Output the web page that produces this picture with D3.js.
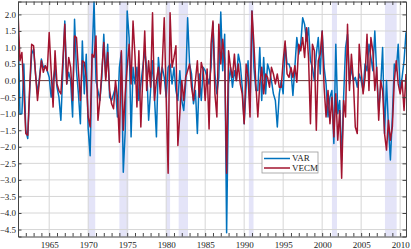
<!DOCTYPE html>
<html><head><meta charset="utf-8">
<script src="https://cdn.jsdelivr.net/npm/d3@7"></script>
<style>html,body{margin:0;padding:0;background:#fff;}svg{display:block;}</style>
</head><body>
<script>
const startYear = 1961; // quarterly series, 1961Q1 onward
const seriesNames = ["VAR", "VECM"];
const varValues = [1.8,-1.0,-1.0,0.5,-1.5,-1.75,-0.3,0.8,0.95,0.2,-0.4,0.1,0.65,0.4,0.45,0.3,0.1,-0.5,0.0,0.4,
-0.2,-0.5,-1.2,0.3,1.8,-0.1,0.25,0.0,-1.1,1.85,0.3,-0.4,-1.3,1.2,-0.4,0.8,-1.46,-2.27,0.7,2.4,
0.0,-0.3,-0.6,0.1,1.4,0.1,1.1,-0.5,-0.6,-0.4,-0.2,-1.1,0.4,0.85,-2.77,-1.5,2.1,1.3,-1.7,0.4,
-0.1,0.4,-0.6,-0.1,0.4,0.9,0.4,-1.2,-0.3,0.6,-0.5,-1.7,0.7,0.0,0.4,0.1,-0.5,0.4,0.5,-0.1,
0.4,-0.3,-0.6,0.3,-0.6,-0.9,-0.1,1.9,0.5,0.2,-0.7,-0.3,-1.6,0.2,-0.6,0.4,0.3,0.1,-0.1,0.4,
1.75,0.2,-0.4,0.1,2.07,0.3,1.4,-4.6,-0.1,0.4,-0.2,0.3,0.0,0.8,0.5,-0.2,-1.3,-0.2,0.6,-0.8,
2.1,0.4,-0.3,-0.3,1.0,-0.6,0.7,-0.4,0.5,0.3,0.0,-0.4,-0.6,-1.4,-0.4,0.0,-0.4,1.1,0.5,0.5,
0.3,-0.45,0.4,1.3,0.8,1.1,1.9,1.7,1.2,1.6,0.6,0.4,0.0,0.8,1.3,0.2,1.5,0.4,-0.1,-1.1,
-0.5,-0.3,-1.9,1.1,-1.0,-0.6,-2.4,-0.5,1.0,1.4,-0.1,0.4,0.0,0.1,-0.2,0.2,0.0,-0.3,0.5,0.3,
1.1,0.7,0.3,1.5,0.2,-0.9,-0.2,1.0,-1.6,0.0,-1.4,-2.4,-1.1,0.5,0.3,1.1,-0.3,0.1,0.6,1.46];
const vecmValues = [2.1,0.6,0.85,-0.3,-1.6,-1.65,-0.2,1.1,1.05,0.2,-0.6,0.0,0.6,0.25,0.45,0.3,1.45,0.3,-0.8,0.9,
-0.1,-0.3,-0.4,0.6,1.7,-0.1,0.7,0.4,-0.6,1.35,1.3,0.3,-0.6,0.6,0.55,0.1,-1.1,-1.4,0.8,0.7,
1.35,-1.2,-0.6,0.3,1.15,0.0,0.85,-0.3,-0.7,-0.85,0.0,-0.5,-1.86,0.9,-1.5,-0.4,0.4,1.1,-0.1,1.8,
0.75,-0.8,0.9,-1.4,0.1,1.5,-0.3,0.6,-0.2,2.05,-0.6,0.0,0.4,-0.4,0.5,1.9,-0.5,-2.8,2.05,0.4,
0.7,1.05,-1.96,-1.0,0.0,-0.6,0.1,0.3,0.5,-0.2,-0.6,0.0,0.6,-0.5,0.55,0.3,-0.6,0.35,-1.46,1.1,
1.8,-0.4,-1.1,1.7,0.5,1.25,0.6,-2.8,0.9,0.4,0.1,0.8,0.0,0.5,-0.1,-0.4,-1.3,0.5,0.1,-1.1,
2.1,1.1,-0.1,-1.1,-0.1,0.4,-0.4,0.2,0.1,-0.2,0.4,0.2,-0.1,0.2,-0.2,-0.2,0.6,1.2,0.2,0.1,
0.4,0.1,0.45,-0.05,1.1,0.9,1.3,0.7,1.6,0.7,-1.3,1.1,0.9,-1.5,0.6,0.8,1.5,-0.2,-1.1,-0.3,
-1.3,-0.5,-1.7,-0.4,-1.8,-0.9,-2.95,-0.6,-1.1,1.7,-0.3,0.8,0.0,-1.4,-1.6,1.1,0.3,-0.4,0.1,1.4,
-0.3,1.3,0.9,-0.3,0.4,-1.2,0.0,-0.3,-1.6,-2.1,-1.2,-1.8,-1.4,0.0,0.6,-0.1,-0.4,0.0,-0.9,0.2];
const recessionStarts = [1970.0, 1974.0, 1980.0, 1981.6, 1990.6, 2001.25, 2008.05];
const recessionEnds   = [1970.9, 1975.15, 1980.5, 1982.8, 1991.2, 2001.9, 2009.55];
const xTickYears = [1965, 1970, 1975, 1980, 1985, 1990, 1995, 2000, 2005, 2010];
const yTickValues = [2.0,1.5,1.0,0.5,0.0,-0.5,-1.0,-1.5,-2.0,-2.5,-3.0,-3.5,-4.0,-4.5];

const W = 411, H = 249;
const m = {left: 18, right: 5, top: 1.5, bottom: 12.5};
const iw = W - m.left - m.right, ih = H - m.top - m.bottom;
const colors = ["#0072BD", "#A2142F"];
const font = "Liberation Serif";

const dates = varValues.map((d, i) => startYear + i / 4);
const x = d3.scaleLinear().domain([startYear, dates[dates.length - 1]]).range([0, iw]);
const y = d3.scaleLinear().domain([-4.71, 2.39]).range([ih, 0]);

const svg = d3.select("body").append("svg").attr("width", W).attr("height", H);
svg.append("defs").append("clipPath").attr("id", "clip")
  .append("rect").attr("width", iw).attr("height", ih);
const g = svg.append("g").attr("transform", `translate(${m.left},${m.top})`);

// recession bands
g.append("g").selectAll("rect").data(recessionStarts).join("rect")
  .attr("x", (d) => x(d)).attr("y", 0)
  .attr("width", (d, i) => x(recessionEnds[i]) - x(d)).attr("height", ih)
  .attr("fill", "#e4e4f8");

// grid
g.append("g").selectAll("line").data(xTickYears).join("line")
  .attr("x1", d => x(d)).attr("x2", d => x(d)).attr("y1", 0).attr("y2", ih)
  .attr("stroke", "#d6d6d6").attr("stroke-width", 1);
g.append("g").selectAll("line").data(yTickValues).join("line")
  .attr("y1", d => y(d)).attr("y2", d => y(d)).attr("x1", 0).attr("x2", iw)
  .attr("stroke", "#d6d6d6").attr("stroke-width", 1);

// zero line
g.append("line").attr("x1", 0).attr("x2", iw).attr("y1", y(0)).attr("y2", y(0))
  .attr("stroke", "#6e3b3b").attr("stroke-width", 1);

// series
const line = d3.line().x((d, i) => x(dates[i])).y(d => y(d));
[varValues, vecmValues].forEach((vals, k) => {
  g.append("path").datum(vals).attr("clip-path", "url(#clip)")
    .attr("d", line).attr("fill", "none")
    .attr("stroke", colors[k]).attr("stroke-width", 1.5).attr("stroke-linejoin", "round");
});

// axes (ticks inward)
const years = d3.range(1961, 2011);
const axB = d3.axisBottom(x).tickValues(years).tickSize(-3.5).tickFormat(d => xTickYears.includes(d) ? d : "");
const axT = d3.axisTop(x).tickValues(years).tickSize(-3.5).tickFormat("");
const axL = d3.axisLeft(y).tickValues(yTickValues).tickSize(-3.5).tickFormat(d3.format(".1f"));
const axR = d3.axisRight(y).tickValues(yTickValues).tickSize(-3.5).tickFormat("");
function style(sel) {
  sel.selectAll("path").attr("stroke", "#444");
  sel.selectAll("line").attr("stroke", "#444");
  sel.selectAll("text").attr("fill", "#222").attr("font-family", font).attr("font-size", 9);
}
g.append("g").attr("transform", `translate(0,${ih})`).call(axB).call(style)
  .selectAll("text").attr("dy", "0.95em").attr("y", 2.5);
g.append("g").call(axT).call(style);
g.append("g").call(axL).call(style).selectAll("text").attr("x", -2);
g.append("g").attr("transform", `translate(${iw},0)`).call(axR).call(style);
g.selectAll(".domain").attr("stroke", "#444");

// legend
const lg = svg.append("g").attr("transform", "translate(262,152)");
lg.append("rect").attr("width", 56).attr("height", 21).attr("fill", "#fff").attr("stroke", "#9a9a9a").attr("stroke-width", 0.8);
seriesNames.forEach((n, k) => {
  const yy = 6.5 + k * 9.5;
  lg.append("line").attr("x1", 2).attr("x2", 28).attr("y1", yy).attr("y2", yy)
    .attr("stroke", colors[k]).attr("stroke-width", 1.5);
  lg.append("text").attr("x", 30).attr("y", yy).attr("dy", "0.33em")
    .attr("font-family", font).attr("font-size", 9).attr("fill", "#222").text(n);
});
</script>
</body></html>
